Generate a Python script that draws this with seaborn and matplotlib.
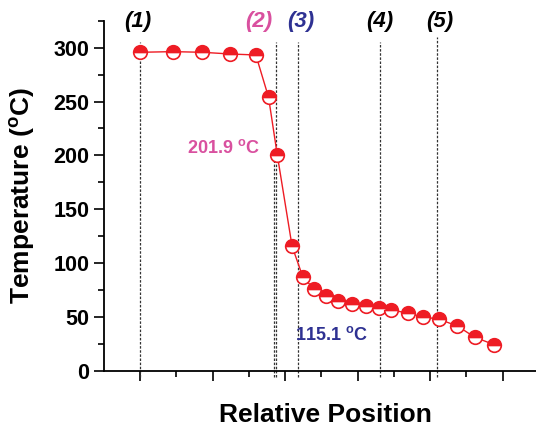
import matplotlib
matplotlib.use("Agg")
import matplotlib.pyplot as plt
import seaborn as sns
import numpy as np
import pandas as pd

# data (relative position units, temperature in degC)
positions = [0.0, 0.90, 1.71, 2.49, 3.19, 3.54, 3.78, 4.19, 4.49, 4.80, 5.12,
             5.47, 5.83, 6.22, 6.59, 6.93, 7.38, 7.79, 8.25, 8.75, 9.23, 9.77]
temperatures = [295.7, 296.3, 295.7, 294.1, 293.2, 254.0, 200.7, 115.7, 86.9,
                76.1, 69.6, 64.7, 62.5, 60.6, 58.8, 56.9, 53.5, 50.4, 47.9,
                41.8, 31.3, 24.4]
region_labels = ["(1)", "(2)", "(3)", "(4)", "(5)"]
region_lines = [0.0, 3.74, 4.35, 6.61, 8.20]
region_label_x = [-0.07, 3.28, 4.43, 6.61, 8.27]
annot_texts = ["201.9 $^{\\mathbf{o}}$C", "115.1 $^{\\mathbf{o}}$C"]

RED = "#ee1c24"
PINK = "#d9509f"
NAVY = "#2e3192"
label_colors = ["black", PINK, NAVY, "black", "black"]

sns.set_style("ticks")
plt.rcParams['font.family'] = ['Liberation Sans', 'DejaVu Sans']
plt.rcParams['font.weight'] = 'bold'
plt.rcParams['text.color'] = 'black'
plt.rcParams['axes.labelcolor'] = 'black'
plt.rcParams['xtick.color'] = 'black'
plt.rcParams['ytick.color'] = 'black'
plt.rcParams['mathtext.fontset'] = 'custom'
plt.rcParams['mathtext.rm'] = 'Liberation Sans'
plt.rcParams['mathtext.bf'] = 'Liberation Sans:bold'

fig = plt.figure(figsize=(5.36, 4.32), dpi=100)
ax = fig.add_axes([104/536, 61/432, 432/536, 350.3/432])

df = pd.DataFrame({"pos": positions, "temp": temperatures})

# vertical dashed region lines
tops = [305.5, 305.5, 305.5, 305.5, 309.6]
for xv, top in zip(region_lines, tops):
    ax.plot([xv, xv], [-5.6, top], ls=(0, (2.0, 1.3)), color="#333333",
            lw=0.9, clip_on=False, zorder=1)
ax.plot([3.70, 3.70], [-5.6, 196], ls=(0, (2.0, 1.3)), color="#333333",
        lw=0.9, clip_on=False, zorder=1)

sns.lineplot(data=df, x="pos", y="temp", ax=ax, color=RED, lw=1.0,
             marker="o", markersize=9.8, fillstyle="top",
             markerfacecolor=RED, markerfacecoloralt="white",
             markeredgecolor=RED, markeredgewidth=1.2, zorder=3,
             sort=False, errorbar=None)

ax.set_xlim(-1.0, 10.92)
ax.set_ylim(0, 325)
ax.set_xticks([0, 2, 4, 6, 8, 10])
ax.set_xticks([1, 3, 5, 7, 9], minor=True)
ax.set_xticklabels([])
ax.set_yticks([0, 50, 100, 150, 200, 250, 300])
ax.set_yticks(np.arange(25, 326, 50), minor=True)

for s in ["top", "right"]:
    ax.spines[s].set_visible(False)
for s in ["left", "bottom"]:
    ax.spines[s].set_linewidth(1.3)
    ax.spines[s].set_color("black")

ax.tick_params(which="major", direction="out", length=7.5, width=1.2,
               labelsize=15.5, pad=3, colors="black")
ax.tick_params(which="minor", direction="out", length=4, width=1.2,
               colors="black")
for lab in ax.get_yticklabels():
    lab.set_fontweight("bold")

ax.set_xlabel("Relative Position", fontsize=19, fontweight="bold",
              color="black")
ax.set_ylabel("Temperature ($^{\\mathbf{o}}$C)", fontsize=19,
              fontweight="bold", color="black")
ax.xaxis.set_label_coords((325 - 104) / 432, (371 - 403) / 350.3)
ax.yaxis.set_label_coords((37 - 104) / 432, 0.502)

# region labels above
for txt, xv, c in zip(region_labels, region_label_x, label_colors):
    ax.text(xv, (371 - 21.7) / 1.0778, txt, ha="center", va="center",
            fontsize=16, fontweight="bold", fontstyle="italic", color=c,
            clip_on=False)

ax.text(2.29, (371 - 148) / 1.0778, annot_texts[0], ha="center", va="center",
        fontsize=13, fontweight="bold", color=PINK)
ax.text(5.28, (371 - 335) / 1.0778, annot_texts[1], ha="center", va="center",
        fontsize=13, fontweight="bold", color=NAVY)

fig.savefig("out.png", dpi=100)
